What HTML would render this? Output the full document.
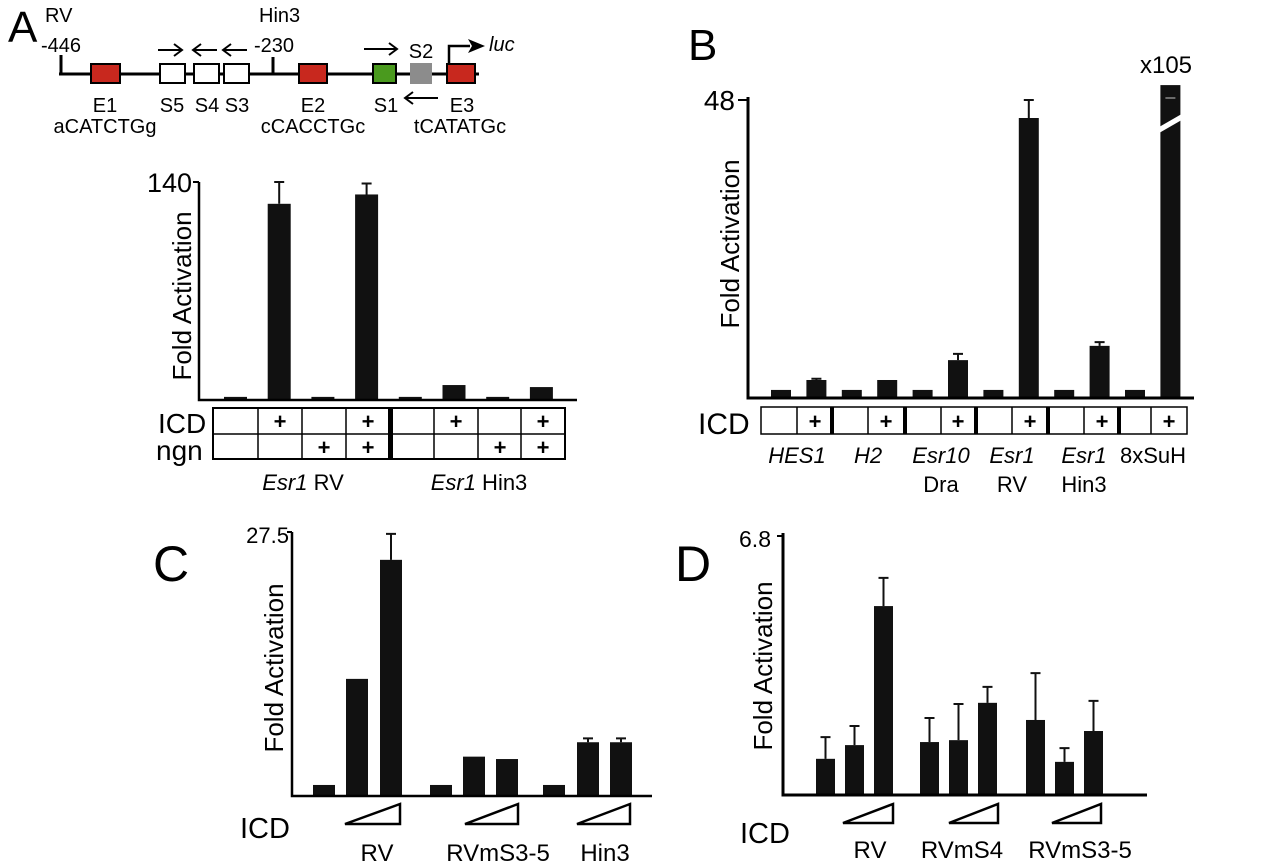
<!DOCTYPE html>
<html><head><meta charset="utf-8"><style>
body{margin:0;background:#fff;}
svg{display:block;font-family:"Liberation Sans",Arial,sans-serif;}
</style></head><body>
<svg id="fig" width="1280" height="865" viewBox="0 0 1280 865" xmlns="http://www.w3.org/2000/svg">
<g id="diag" font-size="20">
  <text x="8" y="42" font-size="44">A</text>
  <text x="45" y="22">RV</text>
  <text x="41" y="52">-446</text>
  <text x="259" y="22">Hin3</text>
  <text x="254" y="52">-230</text>
  <line x1="59" y1="74" x2="479" y2="74" stroke="#000" stroke-width="3"/>
  <line x1="61" y1="55" x2="61" y2="75" stroke="#000" stroke-width="3"/>
  <line x1="273" y1="57" x2="273" y2="75" stroke="#000" stroke-width="3"/>
  <rect x="91" y="64" width="29" height="19" fill="#c8281e" stroke="#000" stroke-width="2"/>
  <rect x="160" y="64" width="25" height="19" fill="#fff" stroke="#000" stroke-width="2"/>
  <rect x="194" y="64" width="25" height="19" fill="#fff" stroke="#000" stroke-width="2"/>
  <rect x="224" y="64" width="25" height="19" fill="#fff" stroke="#000" stroke-width="2"/>
  <rect x="299" y="64" width="28" height="19" fill="#c8281e" stroke="#000" stroke-width="2"/>
  <rect x="373" y="64" width="23" height="19" fill="#4a9a1e" stroke="#000" stroke-width="2"/>
  <rect x="410" y="63" width="22" height="21" fill="#8c8c8c"/>
  <rect x="447" y="64" width="28" height="19" fill="#c8281e" stroke="#000" stroke-width="2"/>
  <g stroke="#000" stroke-width="2" fill="none">
    <path d="M158 50 H181 M174 44 L182 50 L174 56"/>
    <path d="M217 50 H194 M201 44 L193 50 L201 56"/>
    <path d="M247 50 H224 M231 44 L223 50 L231 56"/>
    <path d="M364 49 H396 M389 43 L397 49 L389 55"/>
    <path d="M438 98 H406 M413 92 L405 98 L413 104"/>
    <path d="M449 64 V46 H470" stroke-width="2.5"/>
  </g>
  <path d="M468 39 L485 46 L468 53 L472 46 Z" fill="#000"/>
  <text x="489" y="51" font-style="italic">luc</text>
  <text x="421" y="58" text-anchor="middle">S2</text>
  <g text-anchor="middle">
    <text x="105" y="112">E1</text><text x="105" y="133">aCATCTGg</text>
    <text x="172" y="112">S5</text><text x="207" y="112">S4</text><text x="237" y="112">S3</text>
    <text x="313" y="112">E2</text><text x="313" y="133">cCACCTGc</text>
    <text x="386" y="112">S1</text><text x="462" y="112">E3</text><text x="460" y="133">tCATATGc</text>
  </g>
</g>
<g id="pa"></g>
<g id="pb"></g>
<g id="pc"></g>
<g id="pd"></g>
</svg>
<script>
// Panel A data
const aValues=[2,126,2,132,2,9.6,2,8.3];
const aErrors=[0,14,0,7,0,0,0,0];
const aMax=140;
// Panel B data
const bCategories=["HES1","H2","Esr10 Dra","Esr1 RV","Esr1 Hin3","8xSuH"];
const bValues=[1.3,2.9,1.3,2.9,1.3,6.1,1.3,45.1,1.3,8.4,1.3,105];
const bErrors=[0,0.2,0,0,0,1.0,0,2.9,0,0.6,0,0];
const bMax=48;
// Panel C data
const cCategories=["RV","RVmS3-5","Hin3"];
const cValues=[1.15,12.2,24.6,1.15,4.1,3.85,1.15,5.6,5.6];
const cErrors=[0,0,2.7,0,0,0,0,0.4,0.4];
const cMax=27.5;
// Panel D data
const dCategories=["RV","RVmS4","RVmS3-5"];
const dValues=[0.95,1.31,4.96,1.39,1.44,2.42,1.97,0.87,1.68];
const dErrors=[0.57,0.5,0.74,0.63,0.95,0.42,1.23,0.36,0.79];
const dMax=6.8;

const NS="http://www.w3.org/2000/svg";
function mk(parent,tag,attrs,text){const e=document.createElementNS(NS,tag);for(const k in attrs)e.setAttribute(k,attrs[k]);if(text!==undefined)e.textContent=text;parent.appendChild(e);return e;}
function yScale(v,max,base,top){return base-(v/max)*(base-top);}

function drawBars(g,vals,errs,max,base,top,x0,step,w,name){
  vals.forEach((v,i)=>{
    const x=x0+i*step;
    const vv=Math.min(v,max*1.05);
    const y=yScale(vv,max,base,top);
    const r=mk(g,'rect',{x:x,y:y,width:w,height:base-y,fill:'#111'});
    
    
    if(errs[i]>0){
      const ye=yScale(v+errs[i],max,base,top);
      const cx=x+w/2;
      const e=mk(g,'path',{d:`M${cx} ${y} V${ye} M${cx-5} ${ye} H${cx+5}`,stroke:'#111','stroke-width':2,fill:'none'});
      
      
    }
  });
}
function ylabel(g,x,y,size){const t=mk(g,'text',{x:0,y:0,'font-size':size,'text-anchor':'middle',transform:`translate(${x},${y}) rotate(-90)`},'Fold Activation');}

// ---- Panel A
(function(){
  const g=document.getElementById('pa');const base=400,top=182;
  drawBars(g,aValues,aErrors,aMax,base,top,224,43.7,23,'a');
  mk(g,'path',{d:`M199 ${top} V${base} H577`,stroke:'#000','stroke-width':2.5,fill:'none'});
  mk(g,'line',{x1:193,y1:top,x2:199,y2:top,stroke:'#000','stroke-width':2});
  const t=mk(g,'text',{x:192,y:top+10,'font-size':27,'text-anchor':'end'},String(aMax));
  
  ylabel(g,191,296,26);
  mk(g,'rect',{x:213,y:408,width:352,height:51,fill:'none',stroke:'#000','stroke-width':2});
  mk(g,'line',{x1:213,y1:434,x2:565,y2:434,stroke:'#000','stroke-width':1.5});
  [258,302,346,434,478,521].forEach(x=>mk(g,'line',{x1:x,y1:408,x2:x,y2:459,stroke:'#000','stroke-width':1.5}));
  mk(g,'rect',{x:388,y:408,width:5,height:51,fill:'#000'});
  const icd=[0,1,0,1,0,1,0,1],ngn=[0,0,1,1,0,0,1,1];
  const cx=[235,280,324,368,412,456,500,543];
  cx.forEach((x,i)=>{if(icd[i])mk(g,'text',{x:x,y:429,'font-size':22,'text-anchor':'middle','font-weight':'bold'},'+');if(ngn[i])mk(g,'text',{x:x,y:455,'font-size':22,'text-anchor':'middle','font-weight':'bold'},'+');});
  mk(g,'text',{x:158,y:433,'font-size':28},'ICD');
  mk(g,'text',{x:156,y:460,'font-size':28},'ngn');
  const l1=mk(g,'text',{x:303,y:490,'font-size':22,'text-anchor':'middle'});
  mk(l1,'tspan',{'font-style':'italic'},'Esr1');mk(l1,'tspan',{},' RV');
  const l2=mk(g,'text',{x:479,y:490,'font-size':22,'text-anchor':'middle'});
  mk(l2,'tspan',{'font-style':'italic'},'Esr1');mk(l2,'tspan',{},' Hin3');
})();

// ---- Panel B
(function(){
  const g=document.getElementById('pb');const base=398,top=100;
  mk(g,'text',{x:688,y:60,'font-size':44},'B');
  drawBars(g,bValues,bErrors,bMax,base,top,771,35.4,20,'b');
  const bx=771+11*35.4;
  mk(g,'path',{d:`M${bx-3} 128 L${bx+23} 113 L${bx+23} 119 L${bx-3} 134 Z`,fill:'#fff'});
  mk(g,'line',{x1:bx+5,y1:98,x2:bx+15,y2:98,stroke:'#888','stroke-width':1.5});
  mk(g,'path',{d:`M748 ${top-3} V${base} H1194`,stroke:'#000','stroke-width':3,fill:'none'});
  mk(g,'line',{x1:738,y1:top,x2:748,y2:top,stroke:'#000','stroke-width':2});
  mk(g,'text',{x:735,y:top+10,'font-size':28,'text-anchor':'end'},String(bMax));
  mk(g,'text',{x:1166,y:73,'font-size':24,'text-anchor':'middle'},'x'+bValues[11]);
  ylabel(g,739,244,26);
  mk(g,'rect',{x:761,y:407,width:426,height:27,fill:'none',stroke:'#000','stroke-width':1.5});
  [797,868,941,1012,1084,1151].forEach(x=>mk(g,'line',{x1:x,y1:407,x2:x,y2:434,stroke:'#000','stroke-width':1.5}));
  [832,905,976,1048,1119].forEach(x=>mk(g,'rect',{x:x-2,y:407,width:4,height:27,fill:'#000'}));
  [815,886,958,1030,1102,1169].forEach(x=>mk(g,'text',{x:x,y:429,'font-size':22,'text-anchor':'middle','font-weight':'bold'},'+'));
  mk(g,'text',{x:698,y:434,'font-size':30},'ICD');
  const cx=[797,868,941,1012,1084,1153];
  bCategories.forEach((c,i)=>{
    const parts=c.split(' ');
    const t=mk(g,'text',{x:cx[i],y:463,'font-size':22,'text-anchor':'middle','font-style':i<5?'italic':'normal'},parts[0]);
    
    if(parts[1])mk(g,'text',{x:cx[i],y:492,'font-size':22,'text-anchor':'middle'},parts[1]);
  });
})();

// ---- Panel C
(function(){
  const g=document.getElementById('pc');const base=796,top=532;
  mk(g,'text',{x:153,y:581,'font-size':50},'C');
  const xs=[313,346,380,430,463,496,543,577,610];
  cValues.forEach((v,i)=>drawBars(g,[v],[cErrors[i]],cMax,base,top,xs[i],0,22,'c'+(i+1)));
  mk(g,'path',{d:`M292 ${top} V${base} H652`,stroke:'#000','stroke-width':2.5,fill:'none'});
  mk(g,'line',{x1:287,y1:top,x2:292,y2:top,stroke:'#000','stroke-width':2});
  mk(g,'text',{x:289,y:top+11,'font-size':22,'text-anchor':'end'},String(cMax));
  ylabel(g,283,668,26);
  mk(g,'text',{x:240,y:838,'font-size':29},'ICD');
  const tri=[[345,400],[465,518],[577,630]],lx=[377,498,605];
  cCategories.forEach((c,i)=>{
    const [a,b]=tri[i];
    mk(g,'path',{d:`M${a} 824 L${b} 804 L${b} 824 Z`,fill:'none',stroke:'#000','stroke-width':2.5});
    mk(g,'text',{x:lx[i],y:861,'font-size':24,'text-anchor':'middle'},c);
  });
})();

// ---- Panel D
(function(){
  const g=document.getElementById('pd');const base=795,top=536;
  mk(g,'text',{x:675,y:581,'font-size':50},'D');
  const xs=[816,845,874,920,949,978,1026,1055,1084];
  dValues.forEach((v,i)=>drawBars(g,[v],[dErrors[i]],dMax,base,top,xs[i],0,19,'d'+(i+1)));
  mk(g,'path',{d:`M783 ${top-3} V${base} H1147`,stroke:'#000','stroke-width':3,fill:'none'});
  mk(g,'line',{x1:777,y1:top,x2:783,y2:top,stroke:'#000','stroke-width':2});
  mk(g,'text',{x:771,y:top+11,'font-size':23,'text-anchor':'end'},String(dMax));
  ylabel(g,772,666,26);
  mk(g,'text',{x:740,y:843,'font-size':29},'ICD');
  const tri=[[843,893],[949,998],[1052,1101]],lx=[870,962,1080];
  dCategories.forEach((c,i)=>{
    const [a,b]=tri[i];
    mk(g,'path',{d:`M${a} 823 L${b} 804 L${b} 823 Z`,fill:'none',stroke:'#000','stroke-width':2.5});
    mk(g,'text',{x:lx[i],y:858,'font-size':24,'text-anchor':'middle'},c);
  });
})();
</script>
</body></html>
